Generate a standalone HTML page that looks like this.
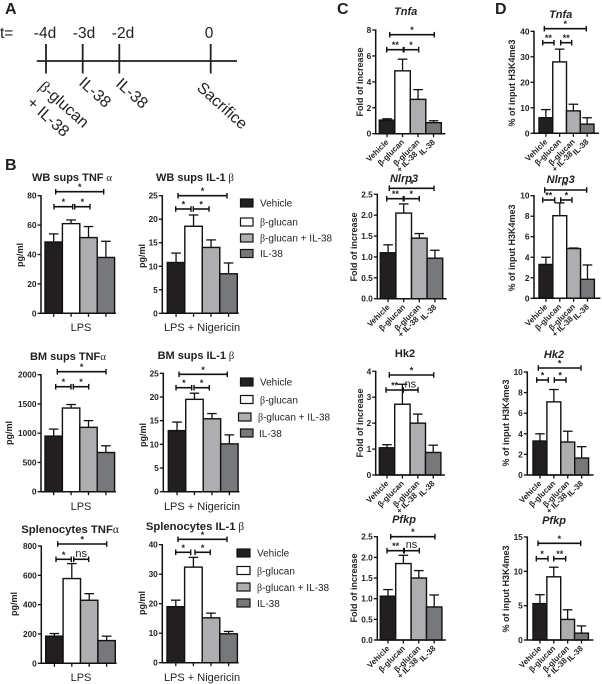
<!DOCTYPE html>
<html><head><meta charset="utf-8"><title>IL-38 figure</title>
<style>
html,body{margin:0;padding:0;background:#fff}
svg{display:block;font-family:"Liberation Sans",sans-serif;fill:#231f20;filter:blur(0.3px)}
.tl{font-size:15.5px;fill:#231f20}
.tr{font-size:16px;fill:#231f20}
.panel{font-size:16px;font-weight:bold}
.title{font-size:11px;font-weight:bold;text-anchor:middle}
.gene{font-size:11px;font-weight:bold;font-style:italic;text-anchor:middle}
.gk{font-family:"Liberation Serif",serif;font-weight:normal}
.ylab{font-size:9px;font-weight:bold;text-anchor:middle}
.xlab{font-size:11px;text-anchor:middle;fill:#231f20}
.leg{font-size:10px;fill:#231f20}
.tick{font-size:8.3px;font-weight:bold;text-anchor:end}
.cat{font-size:8px;font-weight:bold;text-anchor:end}
.star{font-size:9px;font-weight:bold;text-anchor:middle}
.ns{font-size:11px;text-anchor:middle;fill:#231f20}
</style></head><body>
<svg id="fig" xmlns="http://www.w3.org/2000/svg" width="602" height="684" viewBox="0 0 602 684">
<rect width="602" height="684" fill="#fff"/>
<g>
<text class="panel" x="5" y="14">A</text>
<text class="tl" x="0" y="38">t=</text>
<text class="tl" x="45" y="38" text-anchor="middle">-4d</text>
<text class="tl" x="84" y="38" text-anchor="middle">-3d</text>
<text class="tl" x="123" y="38" text-anchor="middle">-2d</text>
<text class="tl" x="209" y="38" text-anchor="middle">0</text>
<g stroke="#231f20" stroke-width="1.8">
<line x1="36.7" x2="237" y1="61" y2="61"/><line x1="46" x2="46" y1="44" y2="73.5"/><line x1="82.7" x2="82.7" y1="44" y2="73.5"/><line x1="119.3" x2="119.3" y1="44" y2="73.5"/><line x1="210.7" x2="210.7" y1="44" y2="73.5"/>
</g>
<text class="tr" transform="translate(38,88) rotate(42)"><tspan class="gk">β</tspan>-glucan</text>
<text class="tr" transform="translate(26,104) rotate(42)">+ IL-38</text>
<text class="tr" transform="translate(78,84) rotate(42)">IL-38</text>
<text class="tr" transform="translate(115,85) rotate(42)">IL-38</text>
<text class="tr" transform="translate(196,89) rotate(42)">Sacrifice</text>
</g>
<text class="panel" x="5" y="170">B</text>
<text class="panel" x="337" y="14">C</text>
<text class="panel" x="495" y="14">D</text>

<text class="title" x="72" y="181">WB sups TNF<tspan class="gk"> α</tspan></text>
<text class="title" x="195" y="181">WB sups IL-1<tspan class="gk"> β</tspan></text>
<text class="title" x="68" y="360">BM sups TNF<tspan class="gk">α</tspan></text>
<text class="title" x="196" y="359">BM sups IL-1<tspan class="gk"> β</tspan></text>
<text class="title" x="70" y="533" style="font-size:11.3px">Splenocytes TNF<tspan class="gk">α</tspan></text>
<text class="title" x="195" y="530" style="font-size:11.3px">Splenocytes IL-1<tspan class="gk"> β</tspan></text>

<text class="ylab" transform="translate(23,255) rotate(-90)">pg/ml</text>
<text class="ylab" transform="translate(145,256) rotate(-90)">pg/ml</text>
<text class="ylab" transform="translate(12,433) rotate(-90)">pg/ml</text>
<text class="ylab" transform="translate(146,435) rotate(-90)">pg/ml</text>
<text class="ylab" transform="translate(17,604) rotate(-90)">pg/ml</text>
<text class="ylab" transform="translate(145,603) rotate(-90)">pg/ml</text>

<text class="xlab" x="81" y="331">LPS</text>
<text class="xlab" x="202" y="331">LPS + Nigericin</text>
<text class="xlab" x="81" y="510">LPS</text>
<text class="xlab" x="202" y="510">LPS + Nigericin</text>
<text class="xlab" x="81" y="681">LPS</text>
<text class="xlab" x="202" y="681">LPS + Nigericin</text>

<text class="gene" x="405.7" y="15">Tnfa</text>
<text class="gene" x="404" y="182">Nlrp3</text>
<text class="gene" style="font-style:normal" x="405" y="357">Hk2</text>
<text class="gene" x="404" y="523">Pfkp</text>
<text class="gene" x="560.7" y="18">Tnfa</text>
<text class="gene" x="560.7" y="183">Nlrp3</text>
<text class="gene" x="554" y="358">Hk2</text>
<text class="gene" x="554" y="524">Pfkp</text>

<text class="ylab" transform="translate(363,82) rotate(-90)">Fold of increase</text>
<text class="ylab" transform="translate(357,247) rotate(-90)">Fold of increase</text>
<text class="ylab" transform="translate(363,423) rotate(-90)">Fold of increase</text>
<text class="ylab" transform="translate(357,588) rotate(-90)">Fold of increase</text>
<text class="ylab" transform="translate(515,83) rotate(-90)">% of input H3K4me3</text>
<text class="ylab" transform="translate(515,248) rotate(-90)">% of input H3K4me3</text>
<text class="ylab" transform="translate(509,423) rotate(-90)">% of input H3K4me3</text>
<text class="ylab" transform="translate(509,589) rotate(-90)">% of input H3K4me3</text>

<g stroke="#111" stroke-width="1.2">
<rect x="240.5" y="199" width="12.5" height="8" fill="#231f20"/>
<rect x="240.5" y="218" width="12.5" height="8" fill="#fff"/>
<rect x="240.5" y="234" width="12.5" height="8" fill="#aeaeb0"/>
<rect x="240.5" y="249.5" width="12.5" height="8" fill="#77787b"/>
<g stroke="none">
<text class="leg" x="260" y="206.5">Vehicle</text>
<text class="leg" x="260" y="225.5"><tspan class="gk">β</tspan>-glucan</text>
<text class="leg" x="260" y="241.5"><tspan class="gk">β</tspan>-glucan + IL-38</text>
<text class="leg" x="260" y="257">IL-38</text>
</g></g>
<g stroke="#111" stroke-width="1.2">
<rect x="240.5" y="378" width="12.5" height="8" fill="#231f20"/>
<rect x="240.5" y="395.5" width="12.5" height="8" fill="#fff"/>
<rect x="238.5" y="413" width="12.5" height="8" fill="#aeaeb0"/>
<rect x="240.5" y="429" width="12.5" height="8" fill="#77787b"/>
<g stroke="none">
<text class="leg" x="260" y="385.5">Vehicle</text>
<text class="leg" x="260" y="403.5"><tspan class="gk">β</tspan>-glucan</text>
<text class="leg" x="258" y="420.5"><tspan class="gk">β</tspan>-glucan + IL-38</text>
<text class="leg" x="259" y="437">IL-38</text>
</g></g>
<g stroke="#111" stroke-width="1.2">
<rect x="237" y="549" width="13" height="8" fill="#231f20"/>
<rect x="237" y="566.5" width="13" height="8" fill="#fff"/>
<rect x="237" y="583" width="13" height="8" fill="#aeaeb0"/>
<rect x="237" y="599" width="13" height="8" fill="#77787b"/>
<g stroke="none">
<text class="leg" x="257" y="556.5">Vehicle</text>
<text class="leg" x="257" y="574.5"><tspan class="gk">β</tspan>-glucan</text>
<text class="leg" x="257" y="591"><tspan class="gk">β</tspan>-glucan + IL-38</text>
<text class="leg" x="257" y="607">IL-38</text>
</g></g>
</svg>
<script>
// Data
const categories = ["Vehicle", "β-glucan", "β-glucan\n+ IL-38", "IL-38"];
const wbTnfValues = [48.5, 61, 51.5, 38];
const wbTnfErrorTops = [54, 63.5, 59, 49];
const wbTnfTicks = [0, 20, 40, 60, 80];
const wbIl1Values = [10.8, 18.5, 14, 8.4];
const wbIl1ErrorTops = [12.8, 20.9, 15.6, 10.7];
const wbIl1Ticks = [0, 5, 10, 15, 20, 25];
const bmTnfValues = [950, 1430, 1100, 670];
const bmTnfErrorTops = [1070, 1490, 1215, 785];
const bmTnfTicks = [0, 500, 1000, 1500, 2000];
const bmIl1Values = [12.9, 19.5, 15.4, 10.1];
const bmIl1ErrorTops = [14.7, 20.8, 16.5, 12];
const bmIl1Ticks = [0, 5, 10, 15, 20, 25];
const splTnfValues = [185, 578, 430, 155];
const splTnfErrorTops = [203, 680, 475, 185];
const splTnfTicks = [0, 200, 400, 600, 800];
const splIl1Values = [19, 32.4, 15.2, 9.8];
const splIl1ErrorTops = [21.2, 35.7, 16.8, 10.6];
const splIl1Ticks = [0, 10, 20, 30, 40];
const cTnfaValues = [1.05, 4.85, 2.65, 0.85];
const cTnfaErrorTops = [1.15, 5.75, 3.4, 1.0];
const cTnfaTicks = [0, 2, 4, 6, 8];
const cNlrp3Values = [1.1, 2.05, 1.45, 0.97];
const cNlrp3ErrorTops = [1.29, 2.27, 1.56, 1.16];
const cNlrp3Ticks = ["0.0", "0.5", "1.0", "1.5", "2.0", "2.5"];
const cHk2Values = [1.05, 2.73, 2.0, 0.87];
const cHk2ErrorTops = [1.17, 3.5, 2.35, 1.15];
const cHk2Ticks = [0, 1, 2, 3, 4];
const cPfkpValues = [1.06, 1.85, 1.5, 0.8];
const cPfkpErrorTops = [1.22, 2.05, 1.68, 1.09];
const cPfkpTicks = ["0.0", "0.5", "1.0", "1.5", "2.0", "2.5"];
const dTnfaValues = [6.1, 28, 8.8, 3.6];
const dTnfaErrorTops = [9.3, 33, 11.4, 6.1];
const dTnfaTicks = [0, 10, 20, 30, 40];
const dNlrp3Values = [3.3, 8.05, 4.85, 1.85];
const dNlrp3ErrorTops = [4, 9.3, 4.9, 3.25];
const dNlrp3Ticks = [0, 2, 4, 6, 8, 10];
const dHk2Values = [3.3, 7.1, 3.2, 1.65];
const dHk2ErrorTops = [4, 8.3, 4.25, 2.75];
const dHk2Ticks = [0, 2, 4, 6, 8, 10];
const dPfkpValues = [5.3, 9.2, 3, 1];
const dPfkpErrorTops = [6.6, 10.6, 4.4, 2.05];
const dPfkpTicks = [0, 5, 10, 15];
const barFills = ["#231f20", "#ffffff", "#aeaeb0", "#77787b"];

const svg = document.getElementById("fig");
const NS = "http://www.w3.org/2000/svg";
function mk(tag, parent, props) {
  const el = document.createElementNS(NS, tag);
  for (const k in props) el.setAttribute(k, props[k]);
  parent.appendChild(el);
  return el;
}
function drawLine(parent, name, x1, y1, x2, y2, w) {
  const el = mk("line", parent, {x1, y1, x2, y2, stroke: "#111", "stroke-width": w || 1.3});
  
  
  return el;
}
function drawChart(id, layout, values, tops, ticks) {
  const g = mk("g", svg, {});
  
  
  const tickNums = ticks.map(Number);
  const yMax = tickNums[tickNums.length - 1];
  const y = v => layout.bottom - (v / yMax) * (layout.bottom - layout.top);
  const bx = i => layout.left + i * layout.step;
  const hasCats = layout.cats;
  // bars and error bars
  values.forEach((v, i) => {
    const eb = tops[i];
    const cx = bx(i) + layout.step / 2;
    drawLine(g, 'error-stem-' + id + '-' + i, cx, y(v), cx, y(eb));
    drawLine(g, 'error-cap-' + id + '-' + i, cx - 4.8, y(eb), cx + 4.8, y(eb));
    const r = mk("rect", g, {x: bx(i), y: y(v), width: layout.step, height: y(0) - y(v), fill: barFills[i], stroke: "#111", "stroke-width": 1.4});
    
    
  });
  // y axis
  drawLine(g, 'y-axis-' + id, layout.axis, layout.top - 0.6, layout.axis, layout.bottom + 0.6, 1.5);
  ticks.forEach((t, i) => {
    const ty = y(tickNums[i]);
    drawLine(g, 'y-tick-' + id + '-' + i, layout.axis - 3.5, ty, layout.axis, ty, 1.3);
    const lab = mk("text", g, {class: "tick", x: layout.axis - 4.5, y: ty + 3});
    lab.textContent = t;
    
    
  });
  // x axis
  const xEnd = bx(values.length) + (layout.pad || 1.3);
  drawLine(g, 'x-axis-' + id, layout.axis, layout.bottom, xEnd, layout.bottom, 1.5);
  values.forEach((v, i) => {
    const cx = bx(i) + layout.step / 2;
    drawLine(g, 'x-tick-' + id + '-' + i, cx, layout.bottom, cx, layout.bottom + 3.5, 1.3);
    if (hasCats) {
      const lab = mk("text", g, {class: "cat", transform: "translate(" + (cx + 2) + "," + (layout.bottom + 9) + ") rotate(-45)"});
      
      
      categories[i].split("\n").forEach((line, li) => {
        const ts = mk("tspan", lab, {x: li * -10, y: li * 7});
        ts.textContent = line;
      });
    }
  });
  // significance brackets
  layout.brackets.forEach((b, i) => {
    const [x1, x2, by, label] = b;
    drawLine(g, 'sig-bracket-' + id + '-' + i, x1, by, x2, by, 1.6);
    drawLine(g, 'sig-cap-left-' + id + '-' + i, x1, by - 2.8, x1, by + 2.8, 1.4);
    drawLine(g, 'sig-cap-right-' + id + '-' + i, x2, by - 2.8, x2, by + 2.8, 1.4);
    const s = mk("text", g, {class: label === "ns" ? "ns" : "star", x: (x1 + x2) / 2, y: label === "ns" ? by - 2.5 : by - 1.5});
    s.textContent = label;
    
    
  });
}
drawChart("wb-tnf", {axis: 41, top: 195.7, bottom: 313.3, left: 45, step: 17.4, brackets: [[55.7,103.7,191.7,"*"],[54,72.7,206.7,"*"],[74.7,90,206.7,"*"]]}, wbTnfValues, wbTnfErrorTops, wbTnfTicks);
drawChart("wb-il1", {axis: 162.3, top: 195.7, bottom: 313.3, left: 167.3, step: 17.5, brackets: [[178,227,195.7,"*"],[175.7,191,209,"*"],[193.3,209,209,"*"]]}, wbIl1Values, wbIl1ErrorTops, wbIl1Ticks);
drawChart("bm-tnf", {axis: 41, top: 374.7, bottom: 491.7, left: 45, step: 17.4, brackets: [[57.3,106,371.7,"*"],[55.7,71,386.7,"*"],[73.3,88.7,386.7,"*"]]}, bmTnfValues, bmTnfErrorTops, bmTnfTicks);
drawChart("bm-il1", {axis: 163.3, top: 373.3, bottom: 491.7, left: 168.3, step: 17.45, brackets: [[179,227.3,374.3,"*"],[176,191.7,387.7,"*"],[194,209.3,387.7,"*"]]}, bmIl1Values, bmIl1ErrorTops, bmIl1Ticks);
drawChart("spl-tnf", {axis: 41.3, top: 546, bottom: 663.3, left: 45.7, step: 17.4, brackets: [[57.7,106.7,544,"*"],[56,71.3,559.3,"*"],[73.7,88.7,559.3,"ns"]]}, splTnfValues, splTnfErrorTops, splTnfTicks);
drawChart("spl-il1", {axis: 162.3, top: 544.7, bottom: 662.7, left: 167, step: 17.6, brackets: [[178,227,539.3,"*"],[175.7,190.7,552.3,"*"],[195,210.3,552.3,"*"]]}, splIl1Values, splIl1ErrorTops, splIl1Ticks);
drawChart("c-tnfa", {axis: 375.7, top: 30, bottom: 133.7, left: 379.3, step: 15.5, pad: 4, cats: true, brackets: [[389.7,434.3,34.7,"*"],[386.7,404,49.7,"**"],[403.3,418.7,49.7,"*"]]}, cTnfaValues, cTnfaErrorTops, cTnfaTicks);
drawChart("c-nlrp3", {axis: 377.3, top: 194.3, bottom: 298.7, left: 380.3, step: 15.6, pad: 4, cats: true, brackets: [[389.3,434,188.3,"*"],[386.7,404,198.7,"**"],[403.3,419.3,198.7,"*"]]}, cNlrp3Values, cNlrp3ErrorTops, cNlrp3Ticks);
drawChart("c-hk2", {axis: 375.7, top: 371.3, bottom: 475, left: 379.3, step: 15.4, pad: 4, cats: true, brackets: [[389.3,433.7,375,"*"],[386,403.3,390,"**"],[402.7,418,390,"ns"]]}, cHk2Values, cHk2ErrorTops, cHk2Ticks);
drawChart("c-pfkp", {axis: 377.3, top: 536.7, bottom: 640, left: 380.3, step: 15.4, pad: 4, cats: true, brackets: [[390.7,435,536.7,"*"],[387,404.3,550.7,"**"],[403.7,419.3,550.7,"ns"]]}, cPfkpValues, cPfkpErrorTops, cPfkpTicks);
drawChart("d-tnfa", {axis: 534, top: 31.3, bottom: 133.3, left: 539, step: 13.75, pad: 5, cats: true, brackets: [[544.3,586.3,28.7,"*"],[542.7,554,42.7,"**"],[560.7,571.7,42.7,"**"]]}, dTnfaValues, dTnfaErrorTops, dTnfaTicks);
drawChart("d-nlrp3", {axis: 534, top: 195.7, bottom: 298.3, left: 539, step: 13.85, pad: 6, cats: true, brackets: [[544.7,586.7,190,"*"],[542.7,554.7,200,"**"],[560.7,572,200,"*"]]}, dNlrp3Values, dNlrp3ErrorTops, dNlrp3Ticks);
drawChart("d-hk2", {axis: 527.3, top: 372, bottom: 475, left: 533, step: 13.9, pad: 5, cats: true, brackets: [[538.3,581,368,"*"],[536.7,548.3,380,"*"],[554.3,566,380,"*"]]}, dHk2Values, dHk2ErrorTops, dHk2Ticks);
drawChart("d-pfkp", {axis: 527.3, top: 537, bottom: 640, left: 533, step: 13.85, pad: 5, cats: true, brackets: [[538,580.7,543.3,"*"],[536.3,548,558.7,"*"],[553.7,565.7,558.7,"**"]]}, dPfkpValues, dPfkpErrorTops, dPfkpTicks);
</script>
</body></html>
